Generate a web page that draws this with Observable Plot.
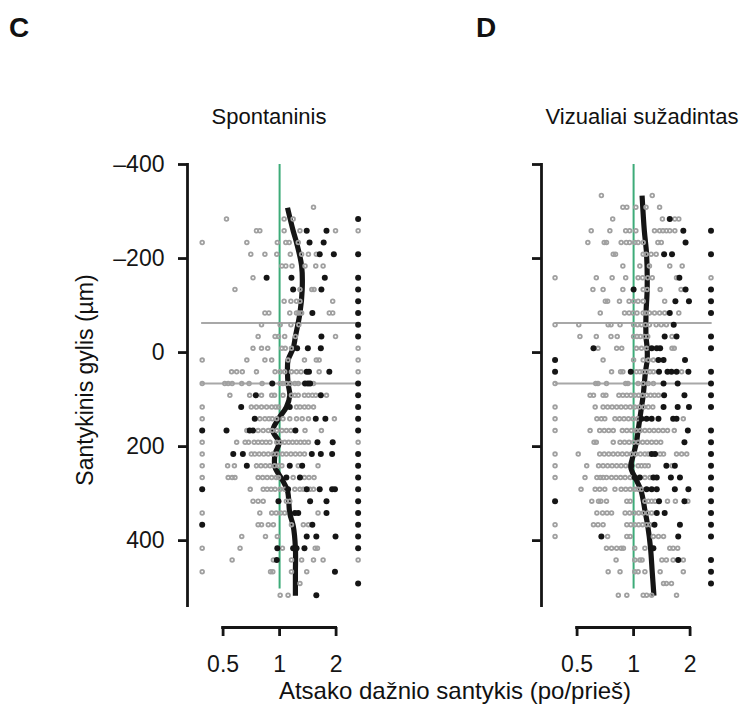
<!DOCTYPE html>
<html><head><meta charset="utf-8">
<script src="https://cdn.jsdelivr.net/npm/d3@7"></script>
<script src="https://cdn.jsdelivr.net/npm/@observablehq/plot@0.6"></script>
<style>
body{margin:0;background:#fff;}
#wrap{position:relative;width:742px;height:711px;font-family:"Liberation Sans",Arial,Helvetica,sans-serif;color:#111;overflow:hidden;}
.lbl{position:absolute;white-space:nowrap;line-height:1;}
.panel{position:absolute;top:0;}
</style></head><body>
<div id="wrap"></div>
<script>
// ---------- data (x values are log2 of the response-rate ratio) ----------
const rowDepths = [-334,-309,-284,-259,-234,-209,-184,-159,-134,-109,-84,-59,-34,-9,16,41,66,91,116,141,166,191,216,241,266,291,316,341,366,391,416,441,466,491,516];

const cGrey = [
 [], [0.60], [-0.94,0.08,0.24], [-0.41,-0.35,0.08,0.36,0.99,1.39],
 [-1.37,-0.58,-0.04,0.11,0.17,0.33], [-0.51,-0.26,-0.05,0.19,0.39,0.51,0.65],
 [0.04,0.11,0.22,0.45,0.64,0.77], [-0.47], [-0.79,0.36,0.57,0.61],
 [0.08,0.20,0.30,0.36,0.94], [-0.26,-0.19,0.18,0.30,0.34,0.39,0.88,0.94],
 [-0.32,0.01,0.20,0.34], [-0.38,-0.08,-0.02,0.09,0.28,0.99],
 [-0.47,-0.32,-0.21,0.04,0.10,0.21,1.39],
 [-1.37,-0.58,-0.26,-0.14,0.15,0.44,0.65,0.70,1.39],
 [-0.85,-0.76,-0.66,-0.41,-0.08,0.01,0.09,0.21,0.30,0.38,0.70,1.39],
 [-1.37,-0.97,-0.91,-0.84,-0.67,-0.54,-0.31,0.01,0.06,0.12,0.19,0.27,0.33,0.60],
 [-0.88,-0.53,-0.32,-0.14,-0.09,0.06,0.21,0.27,0.33,0.44,0.51,0.58,0.64,0.83],
 [-1.37,-0.50,-0.41,-0.32,-0.23,-0.14,-0.07,-0.02,0.30,0.36,0.44,0.51,0.60],
 [-1.37,-0.35,-0.26,-0.19,-0.13,-0.05,0.06,0.18,0.30,0.40,0.51,0.97],
 [-0.58,-0.38,-0.29,-0.20,-0.13,-0.05,0.04,0.12,0.20,0.45,0.74],
 [-1.37,-0.76,-0.61,-0.55,-0.45,-0.38,-0.31,-0.24,-0.17,-0.05,0.02,0.09,0.16,0.23,0.30,0.37,0.44,0.51,1.39],
 [-1.37,-0.50,-0.44,-0.36,-0.28,-0.20,-0.12,-0.05,0.05,0.12,0.20,0.28,0.36,0.44],
 [-1.37,-0.92,-0.80,-0.41,-0.33,-0.25,-0.17,-0.09,-0.02,0.04,0.33,0.68],
 [-1.37,-0.91,-0.84,-0.79,-0.38,-0.30,-0.22,-0.14,-0.06,-0.02,0.24,0.44,0.52,0.61],
 [-0.52,-0.29,-0.22,-0.15,-0.08,0.01,0.09,0.27,0.36,0.42,0.54,0.60],
 [-0.47,-0.38,-0.29,0.12,0.18], [-1.37,-0.35,-0.14,-0.06,0.02,0.09,0.68],
 [-0.38,-0.32,-0.20,-0.11,0.21,0.42,0.51], [-0.67,-0.25,-0.04],
 [-1.37,-0.70,0.05,0.63,0.67], [-0.84,-0.11,0.21,0.39,0.60,0.77,1.39],
 [-1.37,-0.16,-0.12,0.21,0.48], [0.36], [0.01,0.15]
];
const cBlack = [
 [], [], [1.39], [0.48,0.83], [0.53,0.78], [0.71,0.96,1.39], [], [-0.23,0.21,0.80,1.39],
 [0.24,0.74,1.39], [1.39], [0.58,1.39], [1.39], [0.74,1.39], [0.31,0.50,0.73], [],
 [0.48,0.52,0.88], [-0.13,0.45,0.50,0.54,1.39], [-0.42,0.73,1.39], [-0.68,0.18,1.39],
 [-0.44,0.64,0.81,1.39], [-1.37,-0.94,-0.53,-0.47,0.28,1.39], [0.67,0.94],
 [-0.82,-0.65,0.57,0.73,0.93,1.39], [-0.58,0.18,0.40,1.39], [0.12,0.36,1.39],
 [-1.37,0.15,0.48,0.71,0.93,0.98,1.39], [-0.02,0.54,0.83,1.39], [0.27,0.33,0.83,1.39],
 [-1.37,0.58,1.39], [0.48,0.65,0.99,1.39], [-0.04,0.24,0.30,0.44,1.39], [-0.05],
 [0.98], [1.39], [0.65]
];
const cLineDepth = [-308,-259,-234,-184,-134,-84,-34,-9,16,41,66,91,116,141,166,191,216,244,269,294,342,368,416,467,517];
const cLineLog2  = [0.14,0.24,0.30,0.39,0.40,0.36,0.28,0.24,0.15,0.14,0.15,0.18,0.12,-0.02,-0.12,-0.01,-0.08,-0.08,0.04,0.14,0.18,0.24,0.28,0.28,0.28];

const dGrey = [
 [-0.57,0.33], [-0.19,-0.12,0.04,0.22,0.46], [-0.37,0.51,0.73,0.80],
 [-0.75,-0.42,-0.14,-0.07,0.04,0.37,0.46,0.52,0.58,0.64,0.73],
 [-0.81,-0.52,-0.48,-0.22,-0.13,-0.07,0.02,0.08,0.17,0.43,0.49],
 [-0.36,-0.32,0.17,0.22,0.31,0.40], [-0.19,0.11,0.28,0.64,0.86],
 [-1.39,-0.66,-0.38,-0.14,0.08,0.16,0.25,0.33,0.76,1.37],
 [-0.72,-0.54,-0.19,0.17,0.24,0.47,0.84],
 [-0.50,-0.46,-0.25,-0.08,0.00,0.08,0.17,0.55],
 [-0.59,-0.16,-0.08,-0.01,0.06,0.17,0.22,0.28,0.37,0.46,0.55,0.80],
 [-1.39,-0.97,-0.45,-0.40,-0.24,0.00,0.07,0.14,0.21,0.28,0.40,0.49,0.58],
 [-0.95,-0.66,-0.40,-0.29,0.00,0.06,0.12,0.19,0.25,0.68],
 [-0.63,-0.30,-0.21,0.05,0.14,0.23,0.68,0.72],
 [-0.54,0.00,0.17,0.26,0.35],
 [-0.39,-0.23,-0.19,0.05,0.11,0.17,0.23,0.29,0.35,0.85],
 [-1.39,-0.67,-0.63,-0.48,-0.14,-0.10,0.08,0.17,0.26,0.35],
 [-0.77,-0.71,-0.54,-0.49,-0.26,-0.19,-0.12,-0.05,0.02,0.09,0.16,0.23,0.30,0.37,0.44],
 [-1.39,-0.68,-0.54,-0.46,-0.38,-0.30,-0.22,-0.14,-0.06,0.02,0.10,0.18,0.26,0.34],
 [-1.39,-0.65,-0.57,-0.51,-0.33,-0.25,-0.17,-0.09,-0.01,0.07,0.88],
 [-1.39,-0.77,-0.60,-0.52,-0.44,-0.36,-0.20,-0.12,-0.04,0.04,0.12,0.20,0.28,0.36,0.44,0.52,0.60,0.72],
 [-0.70,-0.66,-0.36,-0.24,-0.16,-0.08,0.00,0.08,0.16,0.24,0.32,0.40,0.48],
 [-1.39,-0.98,-0.60,-0.52,-0.44,-0.36,-0.28,-0.20,-0.12,-0.04,0.04,0.12,0.20,0.26,0.47,0.53,0.76,0.85,0.94],
 [-1.39,-0.83,-0.62,-0.54,-0.46,-0.38,-0.30,-0.22,-0.14,0.08,0.14,0.20,0.26,0.68],
 [-1.39,-0.86,-0.65,-0.59,-0.54,-0.48,-0.39,-0.31,-0.23,-0.15,-0.06,0.20,0.29],
 [-0.93,-0.68,-0.60,-0.51,-0.33,-0.22,-0.14,-0.06,0.02,0.08,0.14],
 [-0.74,-0.62,-0.58,-0.48,-0.12,-0.06,0.20,0.26,0.32,0.38,0.60,0.74,0.96],
 [-0.65,-0.55,-0.47,-0.39,-0.15,-0.07,0.01,0.09,0.17,0.25,0.32],
 [-1.39,-0.71,-0.63,-0.54,-0.12,-0.05,0.02,0.09,0.16,0.23,0.29],
 [-1.39,-0.46,-0.12,-0.06,0.35,0.44,0.53],
 [-0.48,-0.39,-0.30,-0.22,-0.18,0.02,0.20,0.64,0.70,0.78],
 [-0.31,0.02,0.11,0.15,0.50,0.58,0.70,0.88],
 [-0.45,-0.24,0.02,0.08,0.20,0.47,0.88],
 [0.53,0.58,0.67], [-0.27,-0.12,0.17,0.23,0.32,0.76]
];
const dBlack = [
 [], [], [0.64], [0.88,1.37], [0.92], [0.54,0.68,1.37], [], [0.81], [0.00,0.92,1.37],
 [0.74,0.98,1.37], [0.64,1.37], [0.71], [0.55,0.76,1.37], [-0.71,0.32,0.41,0.47,1.37],
 [-1.39,0.44,0.53,0.91], [-1.39,-0.05,0.45,0.60,0.67,0.76,0.97,1.37], [0.53,0.78,1.37],
 [0.54,0.90,1.37], [0.53,0.78,0.98,1.37], [0.14,0.23,0.32,0.44,0.70,0.76], [0.96,1.37],
 [0.90,1.37], [0.32,0.38,1.37], [-0.04,0.58,0.73,1.37], [0.02,0.11,0.35,0.41,0.66,0.82,1.37],
 [0.23,0.32,0.41,0.73,0.97,1.37], [-1.39,0.45,0.90,1.37], [0.41,0.55,1.37], [0.37,0.82,1.37],
 [-0.57,0.79,1.37], [0.35], [0.79,1.37], [1.37], [1.37], []
];
const dLineDepth = [-334,-259,-209,-134,-84,-34,-9,16,41,66,91,116,141,166,191,216,244,269,293,342,368,416,467,517];
const dLineLog2  = [0.15,0.19,0.23,0.24,0.22,0.22,0.24,0.24,0.21,0.19,0.17,0.14,0.11,0.08,0.05,0.00,-0.05,0.04,0.13,0.21,0.25,0.30,0.33,0.36];

const xTicks = [0.5, 1, 2];
const yTicks = [-400, -200, 0, 200, 400];
const yDomain = [-400, 538];
const xDomainLog2 = [-1.63, 1.5];
const refDepths = [-63, 66];
const refSpanLog2 = [-1.38, 1.39];
const unitLineSpan = [-400, 503];
const panelLetters = ["C", "D"];
const panelTitles = ["Spontaninis", "Vizualiai sužadintas"];
const yLabel = "Santykinis gylis (µm)";
const xLabel = "Atsako dažnio santykis (po/prieš)";

// ---------- drawing ----------
const FONT = '"Liberation Sans", Arial, Helvetica, sans-serif';
const INK = "#151515";

function points(rows) {
  return rowDepths.flatMap((d, i) => rows[i].map(v => ({depth: d, ratio: 2 ** v})));
}

function panel(grey, black, lineDepth, lineLog2, withLabels) {
  const curve = lineDepth.map((d, i) => ({depth: d, ratio: 2 ** lineLog2[i]}));
  const refs = refDepths.map(d => ({depth: d, x1: 2 ** refSpanLog2[0], x2: 2 ** refSpanLog2[1]}));
  const W = 370, ML = 187, MR = W - ML - (xDomainLog2[1] - xDomainLog2[0]) * 56.5;
  return Plot.plot({
    width: W, height: 711,
    marginLeft: ML, marginRight: MR, marginTop: 164, marginBottom: 106,
    x: {type: "log", domain: xDomainLog2.map(v => 2 ** v)},
    y: {domain: yDomain, reverse: true},
    style: {fontFamily: FONT, fontSize: "23px", background: "transparent", color: INK, overflow: "visible"},
    marks: [
      Plot.frame({anchor: "left", stroke: INK, strokeWidth: 2.8}),
      Plot.axisY({ticks: yTicks, tickSize: 9, tickPadding: 14, strokeWidth: 2.8, label: null,
                  fontSize: 23, tickFormat: withLabels ? (d => d < 0 ? "\u2013" + Math.abs(d) : String(d)) : (() => "")}),
      Plot.axisX({ticks: xTicks, tickSize: 9, tickPadding: 19, dy: 22, strokeWidth: 2.8, label: null,
                  fontSize: 23, tickFormat: d => String(d)}),
      Plot.ruleY([yDomain[1]], {x1: xTicks[0], x2: xTicks[2], dy: 22, stroke: INK, strokeWidth: 2.8, strokeLinecap: "square"}),
      Plot.ruleY(refs, {y: "depth", x1: "x1", x2: "x2", stroke: "#a8a8a8", strokeWidth: 2}),
      Plot.ruleX([1], {y1: unitLineSpan[0], y2: unitLineSpan[1], stroke: "#3dab79", strokeWidth: 2}),
      Plot.line(curve, {x: "ratio", y: "depth", stroke: INK, strokeWidth: 5.2, curve: "catmull-rom", strokeLinecap: "butt"}),
      Plot.dot(points(grey), {x: "ratio", y: "depth", r: 1.85, stroke: "#a0a0a0", strokeWidth: 1.8, fill: "none"}),
      Plot.dot(points(black), {x: "ratio", y: "depth", r: 3, fill: INK, stroke: "none"})
    ]
  });
}

const wrap = document.getElementById("wrap");
const pc = panel(cGrey, cBlack, cLineDepth, cLineLog2, true);
pc.classList.add("panel"); pc.style.left = "0px";
const pd = panel(dGrey, dBlack, dLineDepth, dLineLog2, false);
pd.classList.add("panel"); pd.style.left = "354px";
wrap.appendChild(pc);
wrap.appendChild(pd);

function addLabel(text, css) {
  const el = document.createElement("div");
  el.className = "lbl";
  el.textContent = text;
  Object.assign(el.style, css);
  wrap.appendChild(el);
}
addLabel(panelLetters[0], {left: "9px", top: "14px", fontSize: "28px", fontWeight: "bold"});
addLabel(panelLetters[1], {left: "476px", top: "14px", fontSize: "28px", fontWeight: "bold"});
addLabel(panelTitles[0], {left: "269px", top: "106px", fontSize: "22px", transform: "translateX(-50%)"});
addLabel(panelTitles[1], {left: "642px", top: "106px", fontSize: "22px", transform: "translateX(-50%)"});
addLabel(yLabel, {left: "85px", top: "380px", fontSize: "23px", transform: "translate(-50%,-50%) rotate(-90deg)"});
addLabel(xLabel, {left: "455px", top: "679px", fontSize: "24px", transform: "translateX(-50%)"});
</script>
</body></html>
